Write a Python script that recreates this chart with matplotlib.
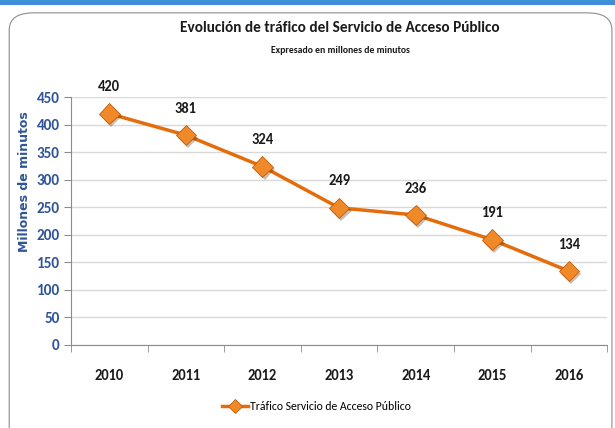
import matplotlib
matplotlib.use("Agg")
import matplotlib.pyplot as plt
from matplotlib.patches import FancyBboxPatch, Rectangle
import matplotlib.patheffects as pe

years = ["2010", "2011", "2012", "2013", "2014", "2015", "2016"]
values = [420, 381, 324, 249, 236, 191, 134]
yticks = [0, 50, 100, 150, 200, 250, 300, 350, 400, 450]

plt.rcParams['font.family'] = ['Carlito', 'DejaVu Sans']

fig = plt.figure(figsize=(6.15, 4.28), dpi=100)
fig.patch.set_facecolor("white")

fig.add_artist(Rectangle((0, 0.988), 1, 0.012, transform=fig.transFigure,
                         facecolor="#3E8FD8", edgecolor="none"))
fig.add_artist(FancyBboxPatch((0.015, -0.05), 0.98, 1.02, transform=fig.transFigure,
                              boxstyle="round,pad=0,rounding_size=0.04",
                              facecolor="none", edgecolor="#8C8C8C", linewidth=0.8))

ax = fig.add_axes([0.1154, 0.194, 0.872, 0.579])
x = list(range(len(years)))
ax.plot(x, values, color="#E46C0A", linewidth=2.5, zorder=3)
ax.plot(x, values, linestyle="none", marker="D", markersize=10.5,
        markerfacecolor="#F08A28", markeredgecolor="#C55A08", markeredgewidth=0.6, zorder=4,
        path_effects=[pe.SimplePatchShadow(offset=(1.5, -2), alpha=0.3), pe.Normal()])
ax.plot([], [], color="#E46C0A", linewidth=2.5, marker="D", markersize=7,
        markerfacecolor="#F08A28", markeredgecolor="#C55A08", markeredgewidth=0.6,
        label="Tráfico Servicio de Acceso Público")

for xi, v in zip(x, values):
    ax.annotate(str(v), (xi, v), xytext=(0, 14), textcoords="offset points",
                ha="center", va="bottom", fontsize=10.5, fontweight="bold", color="#1a1a1a")

ax.set_ylim(0, 450)
ax.set_xlim(-0.5, len(years) - 0.5)
ax.set_yticks(yticks)
ax.set_yticklabels([str(t) for t in yticks], fontsize=11, fontweight="bold", color="#2F5597")
ax.set_xticks(x)
ax.set_xticklabels(years, fontsize=10.5, fontweight="bold", color="#1a1a1a")
ax.tick_params(axis="x", which="major", length=0, pad=17)
ax.set_xticks([i - 0.5 for i in range(len(years) + 1)], minor=True)
ax.tick_params(axis="x", which="minor", length=5, color="#8C8C8C", direction="out")
ax.tick_params(axis="y", length=5, color="#8C8C8C", direction="out", pad=3)

ax.grid(axis="y", color="#D9D9D9", linewidth=1)
ax.set_axisbelow(True)
for s in ["top", "right"]:
    ax.spines[s].set_visible(False)
ax.spines["left"].set_color("#8C8C8C")
ax.spines["bottom"].set_color("#8C8C8C")

ax.set_ylabel("Millones de minutos", fontsize=9, fontweight="bold", color="#2F5597",
              family=["DejaVu Sans"])
ax.yaxis.set_label_coords(-0.075, 0.66)

fig.text(0.553, 0.935, "Evolución de tráfico del Servicio de Acceso Público",
         ha="center", va="center", fontsize=11, fontweight="bold", color="#1a1a1a")
fig.text(0.553, 0.883, "Expresado en millones de minutos",
         ha="center", va="center", fontsize=7, fontweight="bold", color="#1a1a1a")

fig.legend(loc="center", bbox_to_anchor=(0.515, 0.05), frameon=False,
           fontsize=8.5, handlelength=2.2, handletextpad=0.2)

fig.savefig("out.png", dpi=100)
